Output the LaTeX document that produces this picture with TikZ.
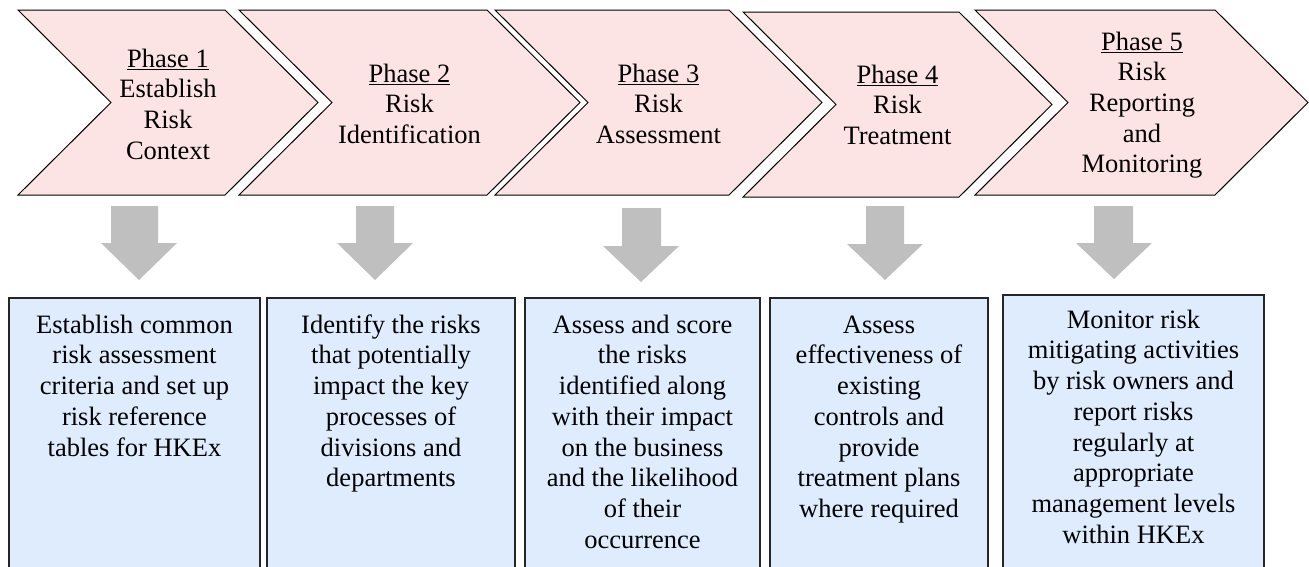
\documentclass[tikz,border=0pt]{standalone}
\usepackage{fontspec}
\setmainfont{Liberation Serif}
\definecolor{chevfill}{RGB}{253,228,228}
\definecolor{boxfill}{RGB}{222,236,253}
\definecolor{arrowgray}{RGB}{191,191,191}
\begin{document}
\begin{tikzpicture}[x=1pt,y=-1pt,
  chev/.style={draw=black, line width=1pt, fill=chevfill, line join=miter},
  bluebox/.style={draw=black!85, line width=1.3pt, fill=boxfill},
  downarrow/.style={fill=arrowgray, draw=none},
  lbl/.style={anchor=north, inner sep=0pt, align=center, font=\fontsize{26.5}{30.7}\selectfont}]
\useasboundingbox (0,0) rectangle (1309,566);
\clip (0,0) rectangle (1309,566);
% chevrons
\draw[chev] (18,10) -- (225,10) -- (318,102.5) -- (225,195) -- (18,195) -- (111,102.5) -- cycle;
\draw[chev] (239,10) -- (487,10) -- (580,102.5) -- (487,195) -- (239,195) -- (332,102.5) -- cycle;
\draw[chev] (495,10) -- (729,10) -- (822,102.5) -- (729,195) -- (495,195) -- (588,102.5) -- cycle;
\draw[chev] (743,12) -- (959,12) -- (1052,104.5) -- (959,197) -- (743,197) -- (836,104.5) -- cycle;
\draw[chev] (975,10) -- (1215,10) -- (1308,102.5) -- (1215,195) -- (975,195) -- (1068,102.5) -- cycle;
\node[lbl] (p1) at (168,45.5) {\strut\underline{Phase 1}\\Establish\\Risk\\Context};
\node[lbl] (p2) at (409.5,60.5) {\strut\underline{Phase 2}\\Risk\\Identification};
\node[lbl] (p3) at (658.5,60.5) {\strut\underline{Phase 3}\\Risk\\Assessment};
\node[lbl] (p4) at (897.5,61.5) {\strut\underline{Phase 4}\\Risk\\Treatment};
\node[lbl] (p5) at (1142,28.5) {\strut\underline{Phase 5}\\Risk\\Reporting\\and\\Monitoring};
% down arrows
\fill[downarrow] (111,206) -- (158,206) -- (158,243) -- (177,243) -- (139,280) -- (101,243) -- (111,243) -- cycle;
\fill[downarrow] (356,206) -- (394,206) -- (394,243) -- (413,243) -- (375,280) -- (337,243) -- (356,243) -- cycle;
\fill[downarrow] (622,208) -- (661,208) -- (661,246) -- (679,246) -- (641,282) -- (603,246) -- (622,246) -- cycle;
\fill[downarrow] (866,206) -- (904,206) -- (904,244) -- (923,244) -- (885,280) -- (847,244) -- (866,244) -- cycle;
\fill[downarrow] (1094,206) -- (1133,206) -- (1133,243) -- (1152,243) -- (1114,279) -- (1076,243) -- (1094,243) -- cycle;
% boxes
\draw[bluebox] (9,298) rectangle (260,590);
\draw[bluebox] (267,298) rectangle (515,590);
\draw[bluebox] (525,298) rectangle (760,590);
\draw[bluebox] (770,298) rectangle (988,590);
\draw[bluebox] (1003,295) rectangle (1264,590);
\node[lbl] (t1) at (134.5,311.5) {\strut Establish common\\risk assessment\\criteria and set up\\risk reference\\tables for HKEx};
\node[lbl] (t2) at (391,311.5) {\strut Identify the risks\\that potentially\\impact the key\\processes of\\divisions and\\departments};
\node[lbl] (t3) at (642.5,311.5) {\strut Assess and score\\the risks\\identified along\\with their impact\\on the business\\and the likelihood\\of their\\occurrence};
\node[lbl] (t4) at (879,311.5) {\strut Assess\\effectiveness of\\existing\\controls and\\provide\\treatment plans\\where required};
\node[lbl] (t5) at (1133.5,306.5) {\strut Monitor risk\\mitigating activities\\by risk owners and\\report risks\\regularly at\\appropriate\\management levels\\within HKEx};
\end{tikzpicture}
\end{document}
